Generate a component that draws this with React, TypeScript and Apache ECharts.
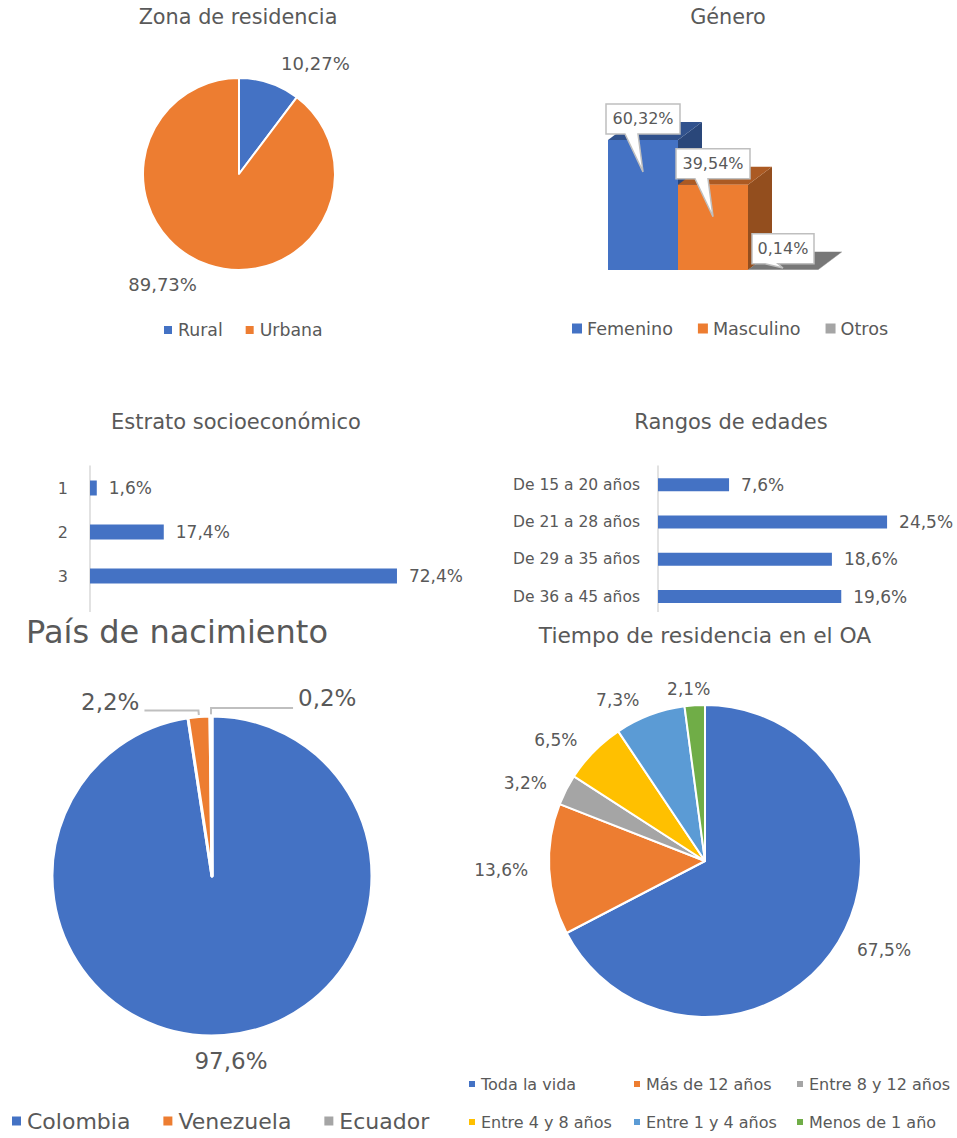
import React, { useEffect, useRef } from "react";
import * as echarts from "echarts";

const FONT = "'DejaVu Sans', sans-serif";
const TXT = "#595959";

// Zona de residencia
const zonaCategories = ["Rural", "Urbana"];
const zonaValues = [10.27, 89.73];
const zonaColors = ["#4472c4", "#ed7d31"];

// Género
const generoCategories = ["Femenino", "Masculino", "Otros"];
const generoValues = [60.32, 39.54, 0.14];
const generoColors = ["#4472c4", "#ed7d31", "#a5a5a5"];

// Estrato socioeconómico (the 4th row is cut off by the chart below it)
const estratoCategories = ["1", "2", "3", "4"];
const estratoValues: (number | null)[] = [1.6, 17.4, 72.4, null];

// Rangos de edades
const edadCategories = ["De 15 a 20 años", "De 21 a 28 años", "De 29 a 35 años", "De 36 a 45 años"];
const edadValues = [7.6, 24.5, 18.6, 19.6];

// País de nacimiento
const paisCategories = ["Colombia", "Venezuela", "Ecuador"];
const paisValues = [97.6, 2.2, 0.2];
const paisColors = ["#4472c4", "#ed7d31", "#a5a5a5"];

// Tiempo de residencia en el OA
const tiempoCategories = [
  "Toda la vida",
  "Más de 12 años",
  "Entre 8 y 12 años",
  "Entre 4 y 8 años",
  "Entre 1 y 4 años",
  "Menos de 1 año",
];
const tiempoValues = [67.5, 13.6, 3.2, 6.5, 7.3, 2.1];
const tiempoColors = ["#4472c4", "#ed7d31", "#a5a5a5", "#ffc000", "#5b9bd5", "#70ad47"];

const fmt = (v: number, d: number) => v.toFixed(d).replace(".", ",") + "%";

function shade(hex: string, f: number) {
  const n = parseInt(hex.slice(1), 16);
  const r = Math.round(((n >> 16) & 255) * f);
  const g = Math.round(((n >> 8) & 255) * f);
  const b = Math.round((n & 255) * f);
  return `rgb(${r},${g},${b})`;
}

const titleOf = (text: string, left: number, top: number, fontSize: number) => ({
  text,
  left,
  top,
  padding: 0,
  textAlign: "center",
  textVerticalAlign: "middle",
  textStyle: { fontFamily: FONT, fontSize, fontWeight: "normal", color: TXT },
});

function Chart({ option, left, top, width, height }: any) {
  const ref = useRef<HTMLDivElement>(null);
  useEffect(() => {
    const c = echarts.init(ref.current!, null, { renderer: "svg" });
    c.setOption(option);
    return () => c.dispose();
  }, []);
  return (
    <div
      ref={ref}
      style={{ position: "absolute", left, top, width, height, background: "#fff", overflow: "hidden" }}
    />
  );
}

const zonaOption = {
  animation: false,
  title: titleOf("Zona de residencia", 238, 17, 20.8),
  color: zonaColors,
  legend: {
    left: 162,
    top: 321.5,
    padding: 0,
    icon: "rect",
    itemWidth: 10,
    itemHeight: 10,
    itemGap: 21,
    textStyle: { fontFamily: FONT, fontSize: 17.3, color: TXT },
    data: zonaCategories,
  },
  series: [
    {
      type: "pie",
      center: [239, 174],
      radius: 96,
      startAngle: 90,
      clockwise: true,
      avoidLabelOverlap: false,
      itemStyle: { borderColor: "#fff", borderWidth: 2 },
      label: {
        show: true,
        position: "outside",
        formatter: (p: any) => fmt(p.value, 2),
        fontFamily: FONT,
        fontSize: 18,
        color: TXT,
      },
      labelLine: { show: false, length: 21, length2: 0 },
      data: zonaCategories.map((n, i) => ({ name: n, value: zonaValues[i] })),
    },
  ],
};

const make3D = (i: number) => (params: any, api: any) => {
  const idx = api.value(0);
  const v = api.value(1);
  const base = api.coord([idx, 0]);
  const top = api.coord([idx, v]);
  const bw = api.size([1, 0])[0];
  const x0 = base[0] - bw / 2;
  const x1 = base[0] + bw / 2;
  const yb = base[1];
  const yt = top[1];
  const dx = 24;
  const dy = 18;
  const col = generoColors[i];
  const label = fmt(v, 2);
  const cx = base[0];
  const w = label.length * 12 + 2;
  const by1 = yt - 6;
  const by0 = by1 - 30;
  const tipY = Math.min(yt + 32, yb - 2);
  return {
    type: "group",
    children: [
      {
        type: "polygon",
        shape: { points: [[x1, yt], [x1 + dx, yt - dy], [x1 + dx, yb - dy], [x1, yb]] },
        style: { fill: shade(col, 0.62) },
      },
      {
        type: "polygon",
        shape: { points: [[x0, yt], [x1, yt], [x1 + dx, yt - dy], [x0 + dx, yt - dy]] },
        style: { fill: shade(col, 0.72) },
      },
      {
        type: "rect",
        shape: { x: x0, y: yt, width: bw, height: yb - yt },
        style: { fill: col },
      },
      {
        type: "polygon",
        shape: {
          points: [
            [cx - w / 2, by0],
            [cx + w / 2, by0],
            [cx + w / 2, by1],
            [cx - 5, by1],
            [cx, tipY],
            [cx - 18, by1],
            [cx - w / 2, by1],
          ],
        },
        style: { fill: "#fff", stroke: "#bfbfbf", lineWidth: 1.5 },
      },
      {
        type: "text",
        x: cx,
        y: by0 + 15,
        style: {
          text: label,
          fill: TXT,
          fontSize: 16,
          fontFamily: FONT,
          align: "center",
          verticalAlign: "middle",
        },
      },
    ],
  };
};

const generoOption = {
  animation: false,
  title: titleOf("Género", 250, 17, 20.8),
  legend: {
    left: 94,
    top: 319.5,
    padding: 0,
    icon: "rect",
    itemWidth: 10,
    itemHeight: 10,
    itemGap: 25,
    textStyle: { fontFamily: FONT, fontSize: 17.6, color: TXT },
    data: generoCategories,
  },
  grid: { left: 130, width: 210, top: 119, height: 151, outerBoundsMode: "none" },
  xAxis: { type: "category", data: generoCategories, show: false },
  yAxis: { type: "value", min: 0, max: 70, show: false },
  series: generoCategories.map((name, i) => ({
    type: "custom",
    name,
    itemStyle: { color: generoColors[i] },
    encode: { x: 0, y: 1 },
    data: [[i, generoValues[i]]],
    renderItem: make3D(i),
  })),
};

const estratoOption = {
  animation: false,
  title: titleOf("Estrato socioeconómico", 236, 27, 21),
  grid: { left: 90, top: 71, width: 424, height: 176, outerBoundsMode: "none" },
  xAxis: { type: "value", min: 0, max: 100, show: false },
  yAxis: {
    type: "category",
    data: estratoCategories,
    inverse: true,
    axisLine: { show: true, lineStyle: { color: "#d9d9d9", width: 1.5 } },
    axisTick: { show: false },
    axisLabel: {
      color: TXT,
      fontSize: 16,
      margin: 22,
      fontFamily: FONT,
      formatter: (v: string, i: number) => (i < 3 ? v : ""),
    },
  },
  series: [
    {
      type: "bar",
      data: estratoValues,
      barWidth: 15,
      itemStyle: { color: "#4472c4" },
      label: {
        show: true,
        position: "right",
        distance: 12,
        formatter: (p: any) => fmt(p.value, 1),
        fontFamily: FONT,
        fontSize: 17,
        color: TXT,
      },
    },
  ],
};

const edadOption = {
  animation: false,
  title: titleOf("Rangos de edades", 253, 27, 21),
  grid: { left: 180, top: 71, width: 280.5, height: 149.2, outerBoundsMode: "none" },
  xAxis: { type: "value", min: 0, max: 30, show: false },
  yAxis: {
    type: "category",
    data: edadCategories,
    inverse: true,
    axisLine: { show: true, lineStyle: { color: "#d9d9d9", width: 1.5 } },
    axisTick: { show: false },
    axisLabel: { color: TXT, fontSize: 15.5, margin: 18, fontFamily: FONT },
  },
  series: [
    {
      type: "bar",
      data: edadValues,
      barWidth: 13,
      itemStyle: { color: "#4472c4" },
      label: {
        show: true,
        position: "right",
        distance: 12,
        formatter: (p: any) => fmt(p.value, 1),
        fontFamily: FONT,
        fontSize: 17,
        color: TXT,
      },
    },
  ],
};

const paisItemOpts = [
  { labelLine: { show: false, length: 26, length2: 0 } },
  { labelLine: { show: true, length: 6, length2: 54 } },
  { labelLine: { show: true, length: 8, length2: 82 } },
];

const paisOption = {
  animation: false,
  title: titleOf("País de nacimiento", 177, 20, 32),
  color: paisColors,
  legend: {
    left: 10,
    top: 498,
    padding: 0,
    icon: "rect",
    itemWidth: 11,
    itemHeight: 11,
    itemGap: 31,
    textStyle: { fontFamily: FONT, fontSize: 22, color: TXT },
    data: paisCategories,
  },
  series: [
    {
      type: "pie",
      center: [212, 264],
      radius: 160,
      startAngle: 90,
      clockwise: true,
      avoidLabelOverlap: false,
      itemStyle: { borderColor: "#fff", borderWidth: 3 },
      label: {
        show: true,
        position: "outside",
        formatter: (p: any) => fmt(p.value, 1),
        fontFamily: FONT,
        fontSize: 23,
        color: TXT,
      },
      labelLine: { lineStyle: { color: "#bfbfbf", width: 2 } },
      labelLayout: (p: any) => {
        if (p.dataIndex === 0) return { align: "center" };
        if (p.dataIndex === 1 && p.labelLinePoints) {
          return { dy: -9, labelLinePoints: p.labelLinePoints };
        }
        if (p.dataIndex === 2 && p.labelLinePoints && p.labelRect) {
          const pts = p.labelLinePoints;
          const ax = pts[0][0];
          const m = (q: number[]) => [2 * ax - q[0], q[1]];
          const right = p.labelRect.x + p.labelRect.width;
          return {
            x: 2 * ax - right,
            y: p.labelRect.y + p.labelRect.height / 2 - 10,
            align: "left",
            verticalAlign: "middle",
            labelLinePoints: pts.map(m),
          };
        }
        return {};
      },
      data: paisCategories.map((n, i) => ({ name: n, value: paisValues[i], ...paisItemOpts[i] })),
    },
  ],
};

const tiempoOption = {
  animation: false,
  title: titleOf("Tiempo de residencia en el OA", 250, 23, 21.8),
  color: tiempoColors,
  legend: [0, 1, 2].map((c) => ({
    orient: "vertical",
    left: [12, 177, 340][c],
    top: 464,
    padding: 0,
    icon: "rect",
    itemWidth: 8,
    itemHeight: 8,
    itemGap: 22,
    textStyle: { fontFamily: FONT, fontSize: 16, color: TXT },
    data: [tiempoCategories[c], tiempoCategories[c + 3]],
  })),
  series: [
    {
      type: "pie",
      center: [250, 249],
      radius: 156,
      startAngle: 90,
      clockwise: true,
      avoidLabelOverlap: false,
      itemStyle: { borderColor: "#fff", borderWidth: 2 },
      label: {
        show: true,
        position: "outside",
        formatter: (p: any) => fmt(p.value, 1),
        fontFamily: FONT,
        fontSize: 17,
        color: TXT,
      },
      labelLine: { show: false, length: 16, length2: 0 },
      labelLayout: (p: any) => (p.dataIndex === 5 ? { align: "center" } : {}),
      data: tiempoCategories.map((n, i) => ({ name: n, value: tiempoValues[i] })),
    },
  ],
};

export default function App() {
  return (
    <div>
      <Chart option={zonaOption} left={0} top={0} width={478} height={360} />
      <Chart option={generoOption} left={478} top={0} width={479} height={360} />
      <Chart option={estratoOption} left={0} top={395} width={478} height={217} />
      <Chart option={edadOption} left={478} top={395} width={479} height={218} />
      <Chart option={paisOption} left={0} top={612} width={455} height={526} />
      <Chart option={tiempoOption} left={455} top={612} width={502} height={526} />
    </div>
  );
}
